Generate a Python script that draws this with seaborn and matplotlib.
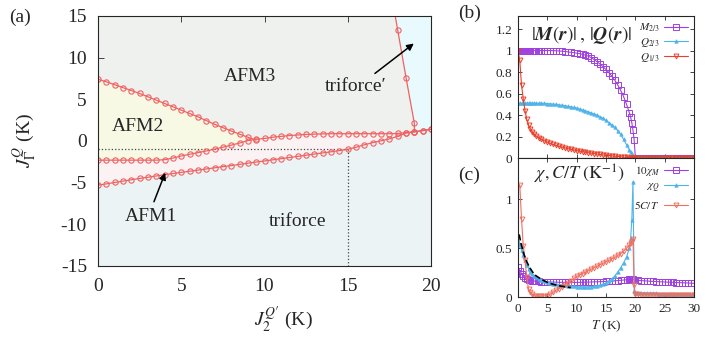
import matplotlib
matplotlib.use("Agg")
import matplotlib.pyplot as plt
import seaborn as sns
import numpy as np

# ---- panel (a): phase diagram, J2 grid (K)
J2 = [0, 0.5, 1, 1.5, 2, 2.5, 3, 3.5, 4, 4.5,
      5, 5.5, 6, 6.5, 7, 7.5, 8, 8.5, 9, 9.5,
      10, 10.5, 11, 11.5, 12, 12.5, 13, 13.5, 14, 14.5,
      15, 15.5, 16, 16.5, 17, 17.5, 18, 18.5, 19, 19.5, 20]
# AFM2 / AFM3 boundary (ends where it meets the middle line)
afm2_top = [7.4, 7.1, 6.75, 6.4, 6.05, 5.7, 5.3, 4.9, 4.5, 4.1,
            3.7, 3.3, 2.9, 2.45, 2.0, 1.6, 1.2, 0.82, 0.45, 0.1]
# middle line (AFM2/AFM1, then AFM3/AFM1)
mid_line = [-2.3, -2.3, -2.3, -2.3, -2.3, -2.3, -2.3, -2.3, -2.25, -2.05,
            -1.8, -1.6, -1.4, -1.2, -0.98, -0.75, -0.5, -0.25, 0.05, 0.2,
            0.3, 0.45, 0.55, 0.65, 0.72, 0.78, 0.82, 0.85, 0.87, 0.87,
            0.87, 0.87, 0.87, 0.87, 0.87, 0.87, 0.9, 1.0, 1.1, 1.25, 1.4]
# lower line (AFM1 / triforce)
low_line = [-5.3, -5.15, -4.98, -4.82, -4.65, -4.5, -4.35, -4.2, -4.05, -3.9,
            -3.77, -3.63, -3.5, -3.36, -3.22, -3.08, -2.95, -2.81, -2.67, -2.53,
            -2.4, -2.26, -2.12, -1.98, -1.85, -1.71, -1.57, -1.43, -1.3, -1.15,
            -1.0, -0.75, -0.45, -0.2, 0.02, 0.25, 0.55, 0.95, 1.1, 1.25, 1.4]
# triforce' boundary
tp_x = [17.5, 18.0, 18.5, 19.0, 19.0]
tp_y = [19.0, 13.3, 7.6, 2.1, 1.1]

# ---- panels (b), (c): temperature grid (K)
T = [0, 0.3, 0.6, 0.9, 1.2, 1.5, 1.8, 2.1, 2.4, 2.7, 3.0,
     3.5, 4, 4.5, 5, 5.5, 6, 6.5, 7, 7.5, 8,
     8.5, 9, 9.5, 10, 10.5, 11, 11.5, 12, 12.5, 13,
     13.5, 14, 14.5, 15, 15.5, 16, 16.5, 17, 17.5, 18, 18.5,
     19.0, 19.2, 19.4, 19.6, 19.8,
     20, 20.5, 21, 21.5, 22, 22.5, 23, 23.5, 24, 24.5,
     25, 25.5, 26, 26.5, 27, 27.5, 28, 28.5, 29, 29.5, 30]

M23 = [1.0, 1.0, 1.0, 1.0, 1.0, 1.0, 1.0, 1.0, 1.0, 1.0, 1.0,
       1.0, 1.0, 1.0, 1.0, 1.0, 0.999, 0.998, 0.996, 0.994, 0.991,
       0.988, 0.984, 0.98, 0.976, 0.971, 0.965, 0.957, 0.947, 0.933, 0.915,
       0.895, 0.873, 0.85, 0.824, 0.795, 0.762, 0.724, 0.68, 0.63, 0.572, 0.5,
       0.42, 0.38, 0.33, 0.26, 0.17,
       0.005, 0, 0, 0, 0, 0, 0, 0, 0, 0,
       0, 0, 0, 0, 0, 0, 0, 0, 0, 0, 0]
Q23 = [0.51, 0.51, 0.51, 0.51, 0.51, 0.51, 0.51, 0.51, 0.51, 0.51, 0.51,
       0.51, 0.51, 0.509, 0.507, 0.505, 0.502, 0.499, 0.495, 0.491, 0.487,
       0.482, 0.477, 0.471, 0.465, 0.457, 0.449, 0.44, 0.43, 0.42, 0.41,
       0.4, 0.385, 0.37, 0.35, 0.33, 0.31, 0.285, 0.255, 0.22, 0.175, 0.125,
       0.075, 0.055, 0.035, 0.02, 0.008,
       0, 0, 0, 0, 0, 0, 0, 0, 0, 0,
       0, 0, 0, 0, 0, 0, 0, 0, 0, 0, 0]
Q13 = [1.0, 0.91, 0.68, 0.55, 0.44, 0.36, 0.31, 0.275, 0.245, 0.225, 0.21,
       0.19, 0.175, 0.16, 0.148, 0.137, 0.127, 0.118, 0.11, 0.102, 0.095,
       0.088, 0.082, 0.076, 0.07, 0.065, 0.06, 0.055, 0.05, 0.046, 0.042,
       0.038, 0.034, 0.03, 0.027, 0.024, 0.021, 0.018, 0.015, 0.012, 0.009, 0.006,
       0.004, 0.003, 0.002, 0.001, 0.0,
       0, 0, 0, 0, 0, 0, 0, 0, 0, 0,
       0, 0, 0, 0, 0, 0, 0, 0, 0, 0, 0]

chiM10 = [0.31, 0.27, 0.24, 0.21, 0.19, 0.18, 0.175, 0.17, 0.167, 0.164, 0.162,
          0.16, 0.158, 0.156, 0.155, 0.154, 0.153, 0.152, 0.151, 0.15, 0.15,
          0.15, 0.15, 0.15, 0.15, 0.15, 0.151, 0.152, 0.153, 0.154, 0.155,
          0.156, 0.157, 0.158, 0.16, 0.162, 0.164, 0.166, 0.168, 0.171, 0.174, 0.177,
          0.18, 0.181, 0.182, 0.181, 0.176,
          0.172, 0.17, 0.168, 0.166, 0.164, 0.162, 0.16, 0.158, 0.157, 0.155,
          0.154, 0.152, 0.151, 0.15, 0.148, 0.147, 0.146, 0.145, 0.143, 0.142, 0.14]
chiQ = [0.57, 0.53, 0.48, 0.43, 0.38, 0.33, 0.29, 0.26, 0.235, 0.215, 0.2,
        0.185, 0.172, 0.162, 0.153, 0.145, 0.138, 0.132, 0.127, 0.122, 0.118,
        0.114, 0.111, 0.108, 0.106, 0.105, 0.104, 0.104, 0.105, 0.107, 0.11,
        0.115, 0.122, 0.132, 0.145, 0.162, 0.185, 0.215, 0.255, 0.3, 0.35, 0.41,
        0.5, 0.6, 0.79, 1.18, 0.06,
        0.045, 0.043, 0.042, 0.041, 0.04, 0.039, 0.038, 0.037, 0.036, 0.035,
        0.034, 0.033, 0.032, 0.031, 0.03, 0.029, 0.028, 0.027, 0.026, 0.025, 0.024]
# 5C/T starts at the second temperature point
CT5 = [1.15, 0.8, 0.52, 0.38, 0.2, 0.08, 0.05, 0.03, 0.015, 0.01,
       0.008, 0.01, 0.012, 0.015, 0.03, 0.05, 0.07, 0.085, 0.105, 0.125,
       0.145, 0.165, 0.19, 0.21, 0.225, 0.24, 0.255, 0.27, 0.285, 0.3,
       0.315, 0.33, 0.345, 0.36, 0.375, 0.39, 0.405, 0.425, 0.445, 0.47, 0.5,
       0.53, 0.55, 0.57, 0.59, 0.12,
       0.03, 0.026, 0.025, 0.025, 0.024, 0.024, 0.023, 0.023, 0.022, 0.022,
       0.022, 0.021, 0.021, 0.021, 0.021, 0.02, 0.02, 0.02, 0.02, 0.02, 0.02]
# low-T fit (dashed)
T_fit = [0.2, 0.5, 1, 1.5, 2, 2.5, 3, 4, 5, 6, 7, 8, 9]
chi_fit = [0.64, 0.55, 0.44, 0.36, 0.3, 0.255, 0.22, 0.18, 0.15, 0.13, 0.115, 0.105, 0.097]

sns.set_style("ticks")
plt.rcParams["font.family"] = ["Liberation Serif", "DejaVu Serif"]
plt.rcParams["mathtext.fontset"] = "stix"
plt.rcParams["xtick.direction"] = "in"
plt.rcParams["ytick.direction"] = "in"

red = "#f06262"
purple = "#a040e0"
sky = "#4fb3ea"
red2 = "#e8402a"
red3 = "#f07060"

fig = plt.figure(figsize=(7.06, 3.43), dpi=100)
axa = fig.add_axes([0.1388, 0.2245, 0.4717, 0.729])
axb = fig.add_axes([0.7337, 0.539, 0.2493, 0.414])
axc = fig.add_axes([0.7337, 0.134, 0.2493, 0.405])

# ---------- (a)
axa.set_facecolor("#eff1ef")
n2 = len(afm2_top)
axa.fill_between(J2, -15, low_line, color="#ebf3f5", lw=0)
axa.fill_between(J2, low_line, mid_line, color="#fbf3f3", lw=0)
axa.fill_between(J2[:n2], mid_line[:n2], afm2_top, color="#f8f9e4", lw=0)
tail = [i for i, v in enumerate(J2) if v > tp_x[-1]]
poly_x = tp_x + [J2[i] for i in tail] + [J2[-1]]
poly_y = tp_y + [mid_line[i] for i in tail] + [tp_y[0]]
axa.fill(poly_x, poly_y, color="#e8fafd", lw=0)

axa.plot([0, 15], [-1, -1], ls=":", color="#444444", lw=0.9)
axa.plot([15, 15], [-1, -15], ls=":", color="#444444", lw=0.9)

line_kw = dict(color=red, lw=0.9, marker="o", markersize=3.8, markerfacecolor="none",
               markeredgecolor=red, markeredgewidth=0.8, estimator=None, sort=False)
sns.lineplot(x=J2[:n2], y=afm2_top, ax=axa, **line_kw)
sns.lineplot(x=J2, y=mid_line, ax=axa, **line_kw)
sns.lineplot(x=J2, y=low_line, ax=axa, **line_kw)
sns.lineplot(x=tp_x, y=tp_y, ax=axa, **line_kw)

axa.set_xlim(0, 20)
axa.set_ylim(-15, 15)
axa.set_xticks([0, 5, 10, 15, 20])
axa.set_yticks([-15, -10, -5, 0, 5, 10, 15])
axa.set_yticklabels(["-15", "-10", "-5", "0", "5", "10", "15"])
axa.tick_params(labelsize=14, top=True, right=True, length=4, width=0.6)
axa.tick_params(axis="x", pad=9)
axa.tick_params(axis="y", pad=8)
axa.set_xlabel(r"$J_2^{Q\prime}$ (K)", fontsize=14)
axa.set_ylabel(r"$J_\Gamma^{Q}$ (K)", fontsize=14)
axa.xaxis.set_label_coords(0.556, -0.16)
axa.yaxis.set_label_coords(-0.18, 0.5)

txt = dict(fontsize=14, ha="center", va="center")
axa.text(9.1, 7.7, "AFM3", **txt)
axa.text(2.4, 1.7, "AFM2", **txt)
axa.text(3.2, -9.1, "AFM1", **txt)
axa.text(12.0, -9.7, "triforce", **txt)
axa.text(15.5, 6.5, "triforce\u2032", **txt)
arr = dict(arrowstyle="-|>", color="black", lw=1.1, mutation_scale=10)
axa.annotate("", xy=(4.1, -3.5), xytext=(3.3, -7.6), arrowprops=arr)
axa.annotate("", xy=(19.1, 11.9), xytext=(16.5, 7.9), arrowprops=arr)

for sp in axa.spines.values():
    sp.set_linewidth(0.8)

# ---------- (b)
sns.lineplot(x=T, y=M23, ax=axb, color=purple, lw=0.8, marker="s", markersize=4,
             markerfacecolor="none", markeredgecolor=purple, markeredgewidth=0.7,
             label=r"$M_{2/3}$", estimator=None)
sns.lineplot(x=T, y=Q23, ax=axb, color=sky, lw=0.8, marker="^", markersize=2.5,
             markerfacecolor=sky, markeredgecolor=sky, markeredgewidth=0.5,
             label=r"$Q_{2/3}$", estimator=None)
sns.lineplot(x=T, y=Q13, ax=axb, color=red2, lw=0.8, marker="v", markersize=3.5,
             markerfacecolor="none", markeredgecolor=red2, markeredgewidth=0.7,
             label=r"$Q_{1/3}$", estimator=None)
axb.set_xlim(0, 30)
axb.set_ylim(0, 1.32)
axb.set_xticks([0, 5, 10, 15, 20, 25, 30])
axb.set_xticklabels([])
axb.set_yticks([0, 0.2, 0.4, 0.6, 0.8, 1.0, 1.2])
axb.set_yticklabels(["0", "0.2", "0.4", "0.6", "0.8", "1", "1.2"])
axb.tick_params(labelsize=9.5, top=True, right=True, length=3, width=0.6, pad=4)
axb.set_xlabel("")
axb.text(0.36, 0.87, r"$|\boldsymbol{M}(\boldsymbol{r})|\,,\,|\boldsymbol{Q}(\boldsymbol{r})|$",
         transform=axb.transAxes, fontsize=14, ha="center", va="center")
axb.legend(loc="upper right", frameon=False, markerfirst=False, fontsize=8,
           handlelength=2.2, labelspacing=0.15, borderaxespad=0.1, handletextpad=0.4)

# ---------- (c)
sns.lineplot(x=T, y=chiM10, ax=axc, color=purple, lw=0.8, marker="s", markersize=4,
             markerfacecolor="none", markeredgecolor=purple, markeredgewidth=0.7,
             label=r"$10\chi_M$", estimator=None)
sns.lineplot(x=T, y=chiQ, ax=axc, color=sky, lw=0.8, marker="^", markersize=2.5,
             markerfacecolor=sky, markeredgecolor=sky, markeredgewidth=0.5,
             label=r"$\chi_Q$", estimator=None)
sns.lineplot(x=T[1:], y=CT5, ax=axc, color=red3, lw=0.8, marker="v", markersize=3.5,
             markerfacecolor="none", markeredgecolor=red3, markeredgewidth=0.7,
             label=r"$5C/T$", estimator=None)
sns.lineplot(x=T_fit, y=chi_fit, ax=axc, color="black", lw=1.2, ls="--",
             estimator=None)
axc.set_xlim(0, 30)
axc.set_ylim(0, 1.42)
axc.set_xticks([0, 5, 10, 15, 20, 25, 30])
axc.set_yticks([0, 0.5, 1.0])
axc.set_yticklabels(["0", "0.5", "1"])
axc.tick_params(labelsize=9.5, top=True, right=True, length=3, width=0.6, pad=4)
axc.set_xlabel(r"$T$ (K)", fontsize=9.5, labelpad=3)
axc.text(0.35, 0.88, r"$\chi, C/T\ (\mathrm{K}^{-1})$", transform=axc.transAxes,
         fontsize=13, ha="center", va="center")
axc.legend(loc="upper right", frameon=False, markerfirst=False, fontsize=8,
           handlelength=2.2, labelspacing=0.35, borderaxespad=0.1, handletextpad=0.4)

for ax in (axb, axc):
    for sp in ax.spines.values():
        sp.set_linewidth(0.8)

fig.text(0.028, 0.95, "(a)", fontsize=14, ha="center", va="center")
fig.text(0.665, 0.962, "(b)", fontsize=14, ha="center", va="center")
fig.text(0.665, 0.49, "(c)", fontsize=14, ha="center", va="center")

fig.savefig("out.png", dpi=100)
